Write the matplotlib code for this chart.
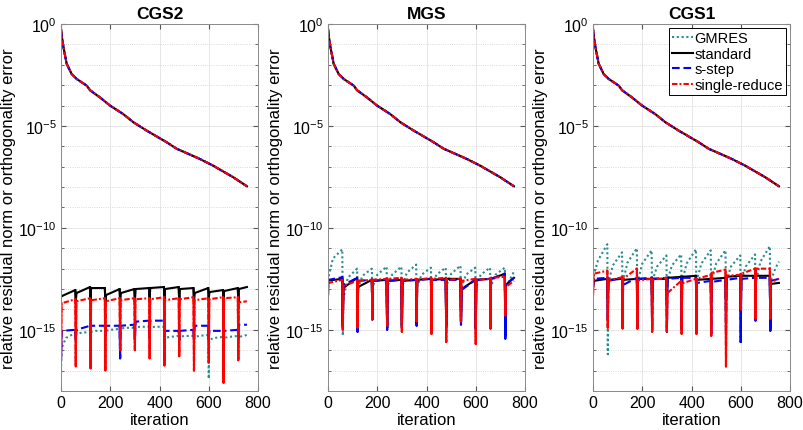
import numpy as np
import matplotlib.pyplot as plt
from matplotlib.ticker import FixedLocator, NullFormatter

plt.rcParams['font.family'] = ['Liberation Sans', 'DejaVu Sans']

# restart cycles (length 60)
cycle_first = [0, 60, 120, 180, 240, 300, 360, 420, 480, 540, 600, 660, 720]
cycle_last = [58, 118, 178, 238, 298, 358, 418, 478, 538, 598, 658, 718, 755]

# relative residual norm (log10), same in all panels
res_iter = [0, 3, 10, 23, 43, 64, 104, 118, 158, 199, 253, 294, 348, 429, 470, 564, 618, 700, 755]
res_exp = [-0.25, -0.6, -1.15, -1.95, -2.45, -2.7, -3.02, -3.25, -3.6, -4.0, -4.42, -4.82,
           -5.23, -5.8, -6.12, -6.62, -6.95, -7.52, -7.96]

# orthogonality error (log10): value at restart, just after, (mid), end of cycle
# CGS2
cgs2_gmres_dip = [-17.0, -15.3, -15.2, -15.15, -15.05, -15.0, -15.0, -15.5, -15.45, -15.45, -17.4, -15.5, -15.45]
cgs2_gmres_start = [-15.9, -15.2, -15.1, -15.05, -14.95, -14.9, -14.9, -15.4, -15.35, -15.35, -15.5, -15.4, -15.35]
cgs2_gmres_mid = [-15.4, -15.15, -15.05, -15.0, -14.9, -14.85, -14.85, -15.35, -15.3, -15.3, -15.4, -15.35, -15.3]
cgs2_gmres_end = [-15.15, -15.1, -15.05, -14.95, -14.9, -14.85, -14.85, -15.3, -15.3, -15.25, -15.35, -15.3, -15.25]
cgs2_std_dip = [-13.35, -13.6, -13.55, -13.65, -13.6, -13.6, -13.55, -13.65, -13.6, -13.6, -13.55, -13.6, -13.65]
cgs2_std_start = [-13.35, -13.2, -12.95, -13.3, -13.2, -13.0, -12.95, -13.0, -13.0, -13.2, -13.15, -13.1, -13.0]
cgs2_std_end = [-13.05, -12.9, -12.95, -13.0, -13.0, -12.95, -12.9, -12.9, -12.95, -12.95, -13.05, -12.95, -12.9]
cgs2_ss_dip = [-16.5, -15.5, -15.5, -15.3, -16.4, -15.5, -15.4, -15.5, -15.5, -15.5, -15.5, -16.9, -15.4]
cgs2_ss_start = [-15.05, -15.0, -14.8, -14.8, -14.8, -14.6, -14.55, -15.05, -15.05, -14.8, -15.05, -15.05, -14.75]
cgs2_ss_end = [-15.0, -14.8, -14.8, -14.8, -14.75, -14.55, -14.55, -15.05, -15.0, -14.8, -15.05, -15.0, -14.75]
cgs2_sr_dip = [-16.4, -16.8, -16.9, -17.0, -16.0, -16.0, -16.4, -16.75, -16.3, -17.0, -16.6, -17.6, -16.5]
cgs2_sr_start = [-13.7, -13.6, -13.55, -13.6, -13.55, -13.5, -13.5, -13.55, -13.5, -13.55, -13.5, -13.45, -13.65]
cgs2_sr_end = [-13.5, -13.45, -13.45, -13.45, -13.45, -13.45, -13.4, -13.45, -13.4, -13.45, -13.4, -13.4, -13.6]

# MGS
mgs_gmres_dip = [-12.6, -15.28, -13.5, -13.3, -13.3, -13.3, -14.8, -13.3, -13.3, -14.75, -13.3, -13.3, -13.3]
mgs_gmres_start = [-12.4, -13.5, -12.95, -12.9, -12.85, -12.85, -12.85, -12.8, -12.8, -12.9, -12.85, -12.85, -12.9]
mgs_gmres_mid = [-11.5, -12.45, -12.35, -12.3, -12.3, -12.2, -12.3, -12.3, -12.25, -12.3, -12.3, -12.3, -12.5]
mgs_gmres_end = [-11.05, -12.0, -12.0, -11.9, -11.9, -11.8, -11.95, -11.95, -11.85, -11.95, -11.95, -11.95, -12.15]
mgs_std_dip = [-12.6, -14.8, -15.0, -14.4, -14.9, -14.8, -14.7, -14.8, -14.8, -14.6, -14.9, -14.8, -15.3]
mgs_std_start = [-12.58, -12.95, -12.9, -12.6, -12.6, -12.6, -12.55, -12.55, -12.5, -13.0, -12.55, -12.5, -12.8]
mgs_std_end = [-12.5, -12.45, -12.55, -12.55, -12.55, -12.55, -12.5, -12.5, -12.5, -12.55, -12.5, -12.25, -12.45]
mgs_ss_dip = [-12.6, -14.9, -15.1, -14.5, -15.0, -14.9, -14.8, -14.9, -14.9, -14.75, -15.0, -14.9, -15.45]
mgs_ss_start = [-12.55, -12.8, -12.6, -12.6, -12.6, -12.6, -12.55, -12.55, -12.55, -13.05, -12.55, -12.5, -12.75]
mgs_ss_end = [-12.42, -12.45, -12.55, -12.55, -12.55, -12.55, -12.5, -12.55, -12.55, -12.55, -12.5, -12.25, -12.45]
mgs_sr_dip = [-13.3, -15.0, -14.9, -14.5, -14.8, -15.1, -14.6, -15.2, -15.6, -14.6, -15.7, -14.95, -14.3]
mgs_sr_start = [-12.7, -12.85, -12.6, -12.55, -12.5, -12.55, -12.55, -12.5, -12.55, -12.6, -12.55, -12.45, -12.9]
mgs_sr_end = [-12.55, -12.6, -12.55, -12.5, -12.45, -12.5, -12.45, -12.45, -12.5, -12.5, -12.5, -12.4, -12.6]

# CGS1
cgs1_gmres_dip = [-12.6, -16.2, -13.3, -13.3, -13.3, -13.3, -13.3, -13.3, -13.3, -13.3, -15.7, -13.3, -13.3]
cgs1_gmres_start = [-12.35, -12.7, -12.6, -12.6, -12.55, -12.6, -12.6, -12.55, -12.6, -12.6, -12.7, -12.6, -12.6]
cgs1_gmres_mid = [-11.6, -11.85, -11.7, -11.75, -11.9, -11.85, -11.75, -11.75, -11.75, -11.9, -11.9, -11.65, -12.0]
cgs1_gmres_end = [-10.8, -11.2, -11.0, -11.1, -11.35, -11.3, -11.05, -11.1, -11.1, -11.35, -11.3, -10.9, -11.65]
cgs1_std_dip = [-12.9, -13.5, -13.5, -13.5, -13.5, -13.5, -13.5, -13.5, -13.5, -13.6, -14.1, -14.5, -14.95]
cgs1_std_start = [-12.6, -12.55, -12.55, -12.5, -12.5, -12.45, -12.4, -12.55, -12.5, -12.4, -12.35, -12.35, -12.75]
cgs1_std_end = [-12.5, -12.5, -12.5, -12.5, -12.5, -12.4, -12.35, -12.5, -12.45, -12.35, -12.35, -12.35, -12.7]
cgs1_ss_dip = [-12.9, -14.5, -14.8, -14.9, -15.0, -15.1, -15.0, -14.9, -15.2, -15.0, -15.6, -14.55, -15.05]
cgs1_ss_start = [-12.5, -12.6, -12.8, -12.5, -12.5, -12.5, -12.45, -12.7, -12.65, -12.55, -12.5, -12.45, -12.6]
cgs1_ss_end = [-12.45, -12.45, -12.45, -12.45, -12.45, -12.45, -12.45, -12.6, -12.55, -12.45, -12.45, -12.45, -12.5]
cgs1_sr_dip = [-13.3, -14.9, -14.95, -14.95, -15.1, -15.1, -15.2, -15.2, -15.3, -16.8, -14.0, -14.46, -14.46]
cgs1_sr_start = [-12.25, -12.58, -12.5, -12.58, -12.55, -13.2, -12.72, -12.5, -12.2, -12.35, -12.25, -12.0, -12.66]
cgs1_sr_end = [-12.1, -12.42, -12.0, -12.5, -12.45, -12.6, -12.5, -12.3, -12.05, -12.3, -12.0, -12.0, -12.5]

titles = ['CGS2', 'MGS', 'CGS1']
labels = ['GMRES', 'standard', 's-step', 'single-reduce']
colors = ['#2a8c8c', 'black', 'blue', 'red']
dashes = [(1, 1.3), None, (3.7, 1.8), (2.6, 1.0, 0.9, 1.0)]


def ortho_line(dip, start, end, mid=None):
    x, y = [], []
    for k in range(len(dip)):
        s = cycle_first[k]
        x += [s, s + 2]
        y += [dip[k], start[k]]
        if mid is not None:
            x.append(s + 20)
            y.append(mid[k])
        x.append(cycle_last[k])
        y.append(end[k])
    return np.array(x), 10.0 ** np.array(y)


def spikes(dip, start, end):
    # restart drops, drawn solid like in the original
    out = [([0, 2], 10.0 ** np.array([dip[0], start[0]]))]
    for k in range(1, len(dip)):
        s = cycle_first[k]
        out.append(([cycle_last[k - 1], s, s + 2],
                    10.0 ** np.array([end[k - 1], dip[k], start[k]])))
    return out


panels = [
    [(cgs2_gmres_dip, cgs2_gmres_start, cgs2_gmres_end, cgs2_gmres_mid),
     (cgs2_std_dip, cgs2_std_start, cgs2_std_end, None),
     (cgs2_ss_dip, cgs2_ss_start, cgs2_ss_end, None),
     (cgs2_sr_dip, cgs2_sr_start, cgs2_sr_end, None)],
    [(mgs_gmres_dip, mgs_gmres_start, mgs_gmres_end, mgs_gmres_mid),
     (mgs_std_dip, mgs_std_start, mgs_std_end, None),
     (mgs_ss_dip, mgs_ss_start, mgs_ss_end, None),
     (mgs_sr_dip, mgs_sr_start, mgs_sr_end, None)],
    [(cgs1_gmres_dip, cgs1_gmres_start, cgs1_gmres_end, cgs1_gmres_mid),
     (cgs1_std_dip, cgs1_std_start, cgs1_std_end, None),
     (cgs1_ss_dip, cgs1_ss_start, cgs1_ss_end, None),
     (cgs1_sr_dip, cgs1_sr_start, cgs1_sr_end, None)],
]

fig = plt.figure(figsize=(8.04, 4.31), dpi=100)
lefts = [0.0759, 0.408, 0.7376]
res_y = 10.0 ** np.array(res_exp)

for p in range(3):
    ax = fig.add_axes([lefts[p], 0.0905, 0.245, 0.8515])
    handles = []
    for j in range(4):
        h, = ax.plot(res_iter, res_y, color=colors[j], lw=1.5, label=labels[j])
        if dashes[j] is not None:
            h.set_dashes(dashes[j])
        handles.append(h)
        d, st, en, md = panels[p][j]
        ox, oy = ortho_line(d, st, en, md)
        ln, = ax.plot(ox, oy, color=colors[j], lw=1.5)
        if dashes[j] is not None:
            ln.set_dashes(dashes[j])
        if j > 0:
            for sx, sy in spikes(d, st, en):
                ax.plot(sx, sy, '-', color=colors[j], lw=1.5)
    ax.set_yscale('log')
    ax.set_ylim(1e-18, 1e0)
    ax.set_xlim(0, 800)
    ax.set_xticks([0, 200, 400, 600, 800])
    ax.set_yticks([1e-15, 1e-10, 1e-5, 1e0])
    ax.yaxis.set_minor_locator(FixedLocator(10.0 ** np.arange(-18, 1)))
    ax.yaxis.set_minor_formatter(NullFormatter())
    ax.grid(True, which='major', color='#e3e3e3', lw=0.6)
    ax.grid(True, which='minor', axis='y', color='#cfcfcf', lw=0.6, ls=':')
    ax.set_axisbelow(True)
    ax.tick_params(which='both', direction='in', top=True, right=True,
                   labelsize=11.5, color='#555555', pad=3)
    ax.tick_params(which='major', length=3.5)
    ax.tick_params(which='minor', length=2)
    for sp in ax.spines.values():
        sp.set_color('#8a8a8a')
        sp.set_linewidth(0.7)
    ax.set_title(titles[p], fontsize=12.5, fontweight='bold', pad=4)
    ax.set_xlabel('iteration', fontsize=12, labelpad=1)
    ax.set_ylabel('relative residual norm or orthogonality error', fontsize=12, labelpad=2)
    if p == 2:
        leg = ax.legend(handles=handles, loc='upper right', fontsize=10.5, fancybox=False,
                        edgecolor='black', framealpha=1, handlelength=1.4,
                        handletextpad=0.1, labelspacing=0.1, borderpad=0.2,
                        borderaxespad=0.3)
        leg.get_frame().set_linewidth(0.7)

fig.savefig('out.png', dpi=100)
